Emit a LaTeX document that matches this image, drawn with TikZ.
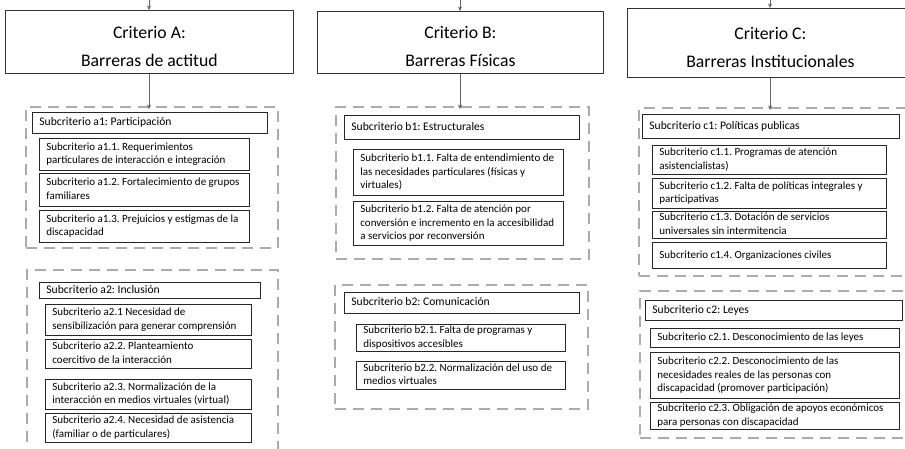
\documentclass[tikz,border=0pt]{standalone}
\usepackage{fontspec}
\setmainfont{Carlito}
\usetikzlibrary{arrows.meta}
\frenchspacing

% text box: north-west corner (#2,#3), south-east corner (#4,#5), style #6, lines #7
\newcommand\cbox[7]{%
  \pgfmathsetmacro\cbw{#4-#2}%
  \pgfmathsetmacro\cbh{#5-#3}%
  \pgfmathsetmacro\cbt{#4-#2-14}%
  \node[#6, anchor=north west, minimum width=\cbw pt, minimum height=\cbh pt]
    (#1) at (#2,#3)
    {\makebox[\cbt pt][l]{\begin{tabular}{@{}l@{}}#7\end{tabular}}};}
% title box with centred lines, set a little below the middle
\newcommand\tbox[6]{%
  \pgfmathsetmacro\cbw{#4-#2}%
  \pgfmathsetmacro\cbh{#5-#3}%
  \node[titlebox, anchor=north west, minimum width=\cbw pt, minimum height=\cbh pt]
    (#1) at (#2,#3)
    {\raisebox{-4.5pt}[\height][\depth]{\begin{tabular}{@{}c@{}}#6\end{tabular}}};}
% dashed group frame
\newcommand\gbox[5]{%
  \pgfmathsetmacro\cbw{#4-#2}%
  \pgfmathsetmacro\cbh{#5-#3}%
  \node[group, anchor=north west, minimum width=\cbw pt, minimum height=\cbh pt]
    (#1) at (#2,#3) {};}

\begin{document}
\begin{tikzpicture}[x=1pt, y=-1pt,
  titlebox/.style={draw=black!80, line width=0.8pt, fill=white,
    inner xsep=7pt, inner ysep=0pt, font=\fontsize{17.7}{28}\selectfont},
  headbox/.style={draw=black!85, line width=0.8pt, fill=white,
    inner xsep=7pt, inner ysep=0pt, font=\fontsize{11.6}{14}\selectfont},
  itembox/.style={draw=black!85, line width=0.8pt, fill=white,
    inner xsep=7pt, inner ysep=0pt, font=\fontsize{11}{13.5}\selectfont},
  group/.style={draw=black!33, line width=2pt, dash pattern=on 11pt off 7pt,
    inner sep=0pt},
  link/.style={draw=black!60, line width=0.6pt,
    -{Stealth[length=4.5pt, width=4pt, fill=black]}},
]
\clip (0,0) rectangle (905,448);
\fill[white] (0,0) rectangle (905,448);

% ---------------- Criterio A ----------------
\tbox{TA}{5}{10}{293}{73}{Criterio A:\\Barreras de actitud}
\gbox{DA1}{25}{106}{277}{247}
\cbox{a1}{32}{112}{267}{133}{headbox}{Subcriterio a1: Participación}
\cbox{a11}{39}{138}{249}{170}{itembox}{Subcriterio a1.1. Requerimientos\\particulares de interacción e integración}
\cbox{a12}{39}{173}{249}{206}{itembox}{Subcriterio a1.2. Fortalecimiento de grupos\\familiares}
\cbox{a13}{39}{210}{249}{242}{itembox}{Subcriterio a1.3. Prejuicios y estigmas de la\\discapacidad}
\gbox{DA2}{26}{269}{277}{470}
\cbox{a2}{39}{282}{260}{298}{headbox}{Subcriterio a2: Inclusión}
\cbox{a21}{45}{304}{251}{335}{itembox}{Subcriterio a2.1 Necesidad de\\sensibilización para generar comprensión}
\cbox{a22}{45}{339}{251}{368}{itembox}{Subcriterio a2.2. Planteamiento\\coercitivo de la interacción}
\cbox{a23}{45}{379}{251}{409}{itembox}{Subcriterio a2.3. Normalización de la\\interacción en medios virtuales (virtual)}
\cbox{a24}{45}{413}{251}{442}{itembox}{Subcriterio a2.4. Necesidad de asistencia\\(familiar o de particulares)}

% ---------------- Criterio B ----------------
\tbox{TB}{317}{11}{603}{73}{Criterio B:\\Barreras Físicas}
\gbox{DB1}{335}{106}{588}{258}
\cbox{b1}{344}{115}{579}{139}{headbox}{Subcriterio b1: Estructurales}
\cbox{b11}{353}{149}{563}{195}{itembox}{Subcriterio b1.1. Falta de entendimiento de\\las necesidades particulares (físicas y\\virtuales)}
\cbox{b12}{353}{201}{563}{245}{itembox}{Subcriterio b1.2. Falta de atención por\\conversión e incremento en la accesibilidad\\a servicios por reconversión}
\gbox{DB2}{334}{284}{587}{408}
\cbox{b2}{344}{292}{579}{313}{headbox}{Subcriterio b2: Comunicación}
\cbox{b21}{356}{324}{565}{351}{itembox}{Subcriterio b2.1. Falta de programas y\\dispositivos accesibles}
\cbox{b22}{356}{361}{565}{389}{itembox}{Subcriterio b2.2. Normalización del uso de\\medios virtuales}

% ---------------- Criterio C ----------------
\tbox{TC}{627}{8}{913}{77}{Criterio C:\\Barreras Institucionales}
\gbox{DC1}{638}{107}{922}{275}
\cbox{c1}{642}{114}{899}{138}{headbox}{Subcriterio c1: Políticas publicas}
\cbox{c11}{652}{145}{886}{174}{itembox}{Subcriterio c1.1. Programas de atención\\asistencialistas)}
\cbox{c12}{652}{178}{886}{208}{itembox}{Subcriterio c1.2. Falta de políticas integrales y\\participativas}
\cbox{c13}{652}{211}{886}{238}{itembox}{Subcriterio c1.3. Dotación de servicios\\universales sin intermitencia}
\cbox{c14}{652}{242}{886}{268}{itembox}{Subcriterio c1.4. Organizaciones civiles}
\gbox{DC2}{639}{290}{922}{437}
\cbox{c2}{645}{300}{902}{320}{headbox}{Subcriterio c2: Leyes}
\cbox{c21}{650}{328}{899}{347}{itembox}{Subcriterio c2.1. Desconocimiento de las leyes}
\cbox{c22}{650}{352}{899}{398}{itembox}{Subcriterio c2.2. Desconocimiento de las\\necesidades reales de las personas con\\discapacidad (promover participación)}
\cbox{c23}{650}{402}{899}{426}{itembox}{Subcriterio c2.3. Obligación de apoyos económicos\\para personas con discapacidad}

% ---------------- connectors ----------------
\coordinate (inA) at (149,0);
\coordinate (inB) at (460,0);
\coordinate (inC) at (770,0);
\draw[link] (inA) -- (inA |- TA.north);
\draw[link] (inB) -- (inB |- TB.north);
\draw[link] (inC) -- (inC |- TC.north);
\draw[link] (inA |- TA.south) -- ([yshift=-3pt]inA |- DA1.north);
\draw[link] (inB |- TB.south) -- ([yshift=-3pt]inB |- DB1.north);
\draw[link] (inC |- TC.south) -- ([yshift=-3pt]inC |- DC1.north);
\end{tikzpicture}
\end{document}
